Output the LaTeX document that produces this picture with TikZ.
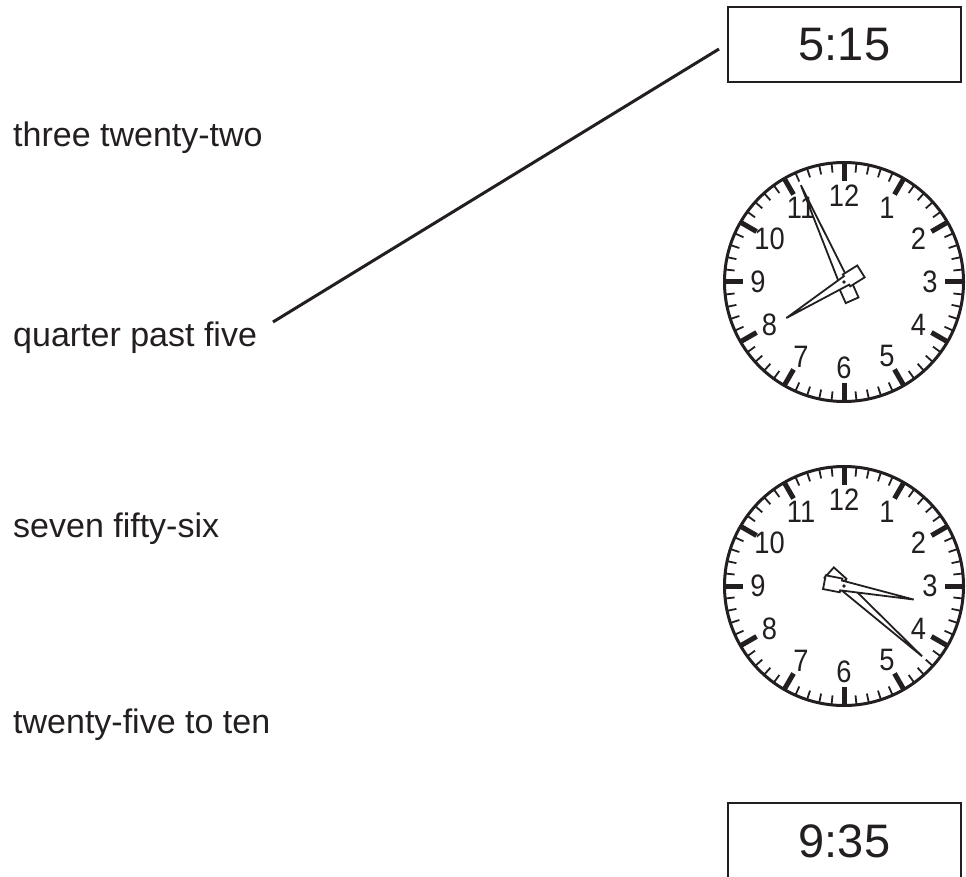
\documentclass[tikz,border=0pt]{standalone}
\usepackage{fontspec}
\setmainfont{Liberation Sans}
\usepackage{graphicx}
\definecolor{ink}{RGB}{35,31,32}
\tikzset{
  every picture/.style={color=ink},
  lab/.style={anchor=base west, inner sep=0pt, font=\fontsize{34}{40}\selectfont},
  timebox/.style={draw, line width=2pt, minimum width=233pt, minimum height=75pt, inner sep=0pt, font=\fontsize{47}{56}\selectfont},
  num/.style={inner sep=0pt, font=\fontsize{31}{37}\selectfont},
  hand/.style={draw, fill=white, line width=1.8pt, line join=miter},
  link/.style={line width=3pt},
}
\newcommand\clockface[2]{%
  \begin{scope}[shift={#2}]
    \draw[line width=3pt] (0,0) circle (119.5);
    \foreach \i in {0,...,59} \draw[line width=1.8pt] (\i*6:119) -- (\i*6:110);
    \foreach \i in {0,...,11} \draw[line width=5pt] (\i*30:119) -- (\i*30:101);
    \foreach \n in {1,...,12} \node[num] (#1n\n) at ({90-\n*30}:86) {\scalebox{0.88}[1]{\n}};
  \end{scope}}
\newcommand\clockhand[3]{%
  \draw[hand, shift={#1}, rotate={90-#2}] (#3,0) -- (-3,5) -- (-3,7) -- (-20,7) -- (-20,-7) -- (-3,-7) -- (-3,-5) -- cycle;}
\begin{document}
\begin{tikzpicture}[x=1pt,y=1pt]
  \useasboundingbox (0,0) rectangle (966,-877);
  \clip (0,0) rectangle (966,-877);
  % labels
  \node[lab] (t1) at (13,-147) {three twenty-two};
  \node[lab] (t2) at (13,-346) {quarter past five};
  \node[lab] (t3) at (13,-537) {seven fifty-six};
  \node[lab] (t4) at (13,-733) {twenty-five to ten};
  % digital boxes
  \node[timebox] (b1) at (844.5,-44.5) {5:15};
  \node[timebox, minimum height=77pt] (b2) at (844.5,-841.5) {9:35};
  % clocks
  \clockface{ca}{(844,-282)}
  \clockhand{(844,-282)}{336}{106}
  \clockhand{(844,-282)}{238}{68}
  \fill (844,-282) circle (1.8);
  \clockface{cb}{(844,-586)}
  \clockhand{(844,-586)}{132}{105}
  \clockhand{(844,-586)}{101}{71}
  \fill (844,-586) circle (1.8);
  % connector
  \coordinate (l1) at (273,-322);
  \coordinate (l2) at (719,-49);
  \draw[link] (l1) -- (l2);
\end{tikzpicture}
\end{document}
